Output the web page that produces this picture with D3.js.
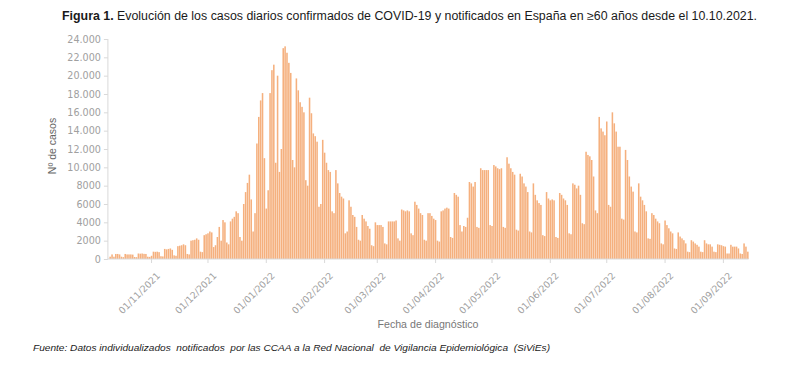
<!DOCTYPE html>
<html>
<head>
<meta charset="utf-8">
<script src="https://cdn.jsdelivr.net/npm/d3@7"></script>
<style>
  html, body { margin: 0; padding: 0; background: #fff; }
  svg { display: block; }
</style>
</head>
<body>
<svg id="chart" width="800" height="368"></svg>
<script>
// ---- DATA ----
const startDate = "2021-10-10"; // first diagnosis date (daily series)
// daily confirmed cases, >=60 years, from 10/10/2021
const casosOct = [250,
  500, 250, 550, 550, 500, 250, 200,
  550, 500, 500, 500, 480, 220, 200,
  600, 580, 600, 560, 550, 250, 230];
const casosNov = [
  350, 800, 780, 800, 750, 300, 280,
  1100, 1050, 1100, 1150, 1000, 400, 350,
  1400, 1450, 1500, 1600, 1500, 550, 500,
  2000, 2050, 2100, 2250, 2100, 800, 750,
  2600, 2700];
const casosDic = [
  2800, 3000, 2900, 1300, 1500,
  2400, 3500, 2000, 4250, 4000, 1800, 1600,
  4100, 4400, 4600, 5200, 5000, 2400, 2000,
  6000, 7300, 8300, 9200, 6500, 3000, 5000,
  12600, 15500, 17300, 18100, 11000];
const casosEne = [
  5500, 7500,
  18100, 20600, 21200, 10500, 20000, 9500, 12000,
  23000, 23200, 22500, 21400, 20300, 10800, 10000,
  19700, 18400, 17100, 16600, 16000, 8600, 8000,
  17600, 15900, 13700, 13400, 12800, 5700, 6000,
  13000];
const casosFeb = [
  11600, 10500, 9700, 9500, 5200, 5000,
  9700, 8250, 7200, 6800, 6600, 2800, 3000,
  6400, 5700, 4800, 4600, 3500, 2100, 2000,
  4800, 4400, 4100, 3600, 3300, 1500, 1400,
  4000];
const casosMar = [
  3700, 3700, 3700, 3500, 1700, 1600,
  4100, 4100, 4100, 4100, 4200, 2250, 2000,
  5400, 5300, 5200, 5300, 5200, 2800, 2600,
  6250, 5900, 5500, 5000, 4800, 2100, 2000,
  5000, 5000, 4700];
const casosAbr = [
  4400, 4250, 2000, 1900,
  5200, 5300, 5500, 5600, 5500, 2400, 2300,
  7200, 7000, 6800, 3700, 3000, 3600, 3500,
  4500, 8400, 8250, 7900, 8400, 3500, 3400,
  9900, 9700, 9700, 9700, 9700];
const casosMay = [
  3700, 3600,
  10250, 10100, 9900, 9800, 9900, 3500, 3400,
  11100, 10400, 9900, 9500, 9200, 3200, 3100,
  9300, 9000, 8250, 7900, 7300, 3000, 2900,
  8250, 7000, 6400, 6100, 5900, 2600, 2500,
  7300, 6600];
const casosJun = [
  6400, 6500, 6400, 2400, 2300,
  7200, 7000, 6600, 6400, 5900, 2800, 2700,
  8250, 8100, 7700, 8000, 7000, 3900, 3800,
  11700, 11350, 11200, 10800, 9000, 5300, 5000,
  15500, 14250, 13900, 13500];
const casosJul = [
  15000, 5900, 5700,
  16000, 14800, 13900, 12250, 12250, 4400, 4300,
  11900, 10800, 9000, 7900, 7350, 3000, 2900,
  8250, 6800, 6400, 5900, 5200, 2250, 2200,
  5000, 4800, 4400, 4100, 3900, 1700, 1600];
const casosAgo = [
  4200, 3700, 3350, 3000, 2800, 1150, 1100,
  2900, 2450, 2250, 2050, 1700, 800, 750,
  2050, 1900, 1700, 1550, 1350, 800, 750,
  2050, 1700, 1600, 1600, 1350, 800, 750,
  1600, 1550, 1500];
const casosSep = [
  1400, 1350, 600, 600,
  1550, 1350, 1350, 1350, 1150, 600, 550,
  1700, 1350, 800];

const yTicks = [0, 2000, 4000, 6000, 8000, 10000, 12000, 14000, 16000, 18000, 20000, 22000, 24000];
const yTickLabels = ["0", "2000", "4000", "6000", "8000", "10.000", "12.000", "14.000", "16.000", "18.000", "20.000", "22.000", "24.000"];
const xTickLabels = ["01/11/2021", "01/12/2021", "01/01/2022", "01/02/2022", "01/03/2022", "01/04/2022",
  "01/05/2022", "01/06/2022", "01/07/2022", "01/08/2022", "01/09/2022"];

const titleBold = "Figura 1.";
const titleRest = " Evolución de los casos diarios confirmados de COVID-19 y notificados en España en ≥60 años desde el 10.10.2021.";
const yTitle = "Nº de casos";
const xTitle = "Fecha de diagnóstico";
const footnote = "Fuente: Datos individualizados  notificados  por las CCAA a la Red Nacional  de Vigilancia Epidemiológica  (SiViEs)";

// ---- BUILD ----
const casos = [].concat(casosOct, casosNov, casosDic, casosEne, casosFeb, casosMar,
  casosAbr, casosMay, casosJun, casosJul, casosAgo, casosSep);
const parse = d3.timeParse("%Y-%m-%d");
const fmt = d3.timeFormat("%d/%m/%Y");
const d0 = parse(startDate);
const data = casos.map((v, i) => ({ date: d3.timeDay.offset(d0, i), value: v }));

const svg = d3.select("#chart");
const pL = 109.4, pR = 748.6, pT = 39, pB = 259;

const x = d3.scaleBand()
  .domain(data.map(d => fmt(d.date)))
  .range([pL, pR])
  .paddingInner(0.18)
  .paddingOuter(0);
const y = d3.scaleLinear().domain([0, 24000]).range([pB, pT]);

const barColor = "#F5B07E";
const axisColor = "#d9d9d9";
const labelColor = "#a0a0a0";

// bars
svg.append("g").selectAll("rect").data(data).join("rect")
  .attr("x", d => x(fmt(d.date)))
  .attr("width", x.bandwidth())
  .attr("y", d => y(d.value))
  .attr("height", d => y(0) - y(d.value))
  .attr("fill", barColor);

// y axis
const yAxis = d3.axisLeft(y)
  .tickValues(yTicks)
  .tickFormat((d, i) => yTickLabels[i])
  .tickSize(4)
  .tickPadding(3);
const gy = svg.append("g").attr("transform", `translate(${pL - 1.5},0)`).call(yAxis);
gy.select(".domain").attr("stroke", axisColor).attr("d", `M0,${pT}V${pB}`);
gy.selectAll(".tick line").attr("stroke", axisColor);
gy.selectAll(".tick text")
  .attr("fill", labelColor)
  .attr("font-family", "DejaVu Sans, sans-serif")
  .attr("font-size", 9.6);

// x axis
const xAxis = d3.axisBottom(x)
  .tickValues(xTickLabels)
  .tickSize(4)
  .tickPadding(2);
const gx = svg.append("g").attr("transform", `translate(0,${pB})`).call(xAxis);
gx.select(".domain").attr("stroke", axisColor).attr("d", `M${pL - 1.5},0H${pR}`);
gx.selectAll(".tick line").attr("stroke", axisColor);
gx.selectAll(".tick text")
  .attr("fill", labelColor)
  .attr("font-family", "DejaVu Sans, sans-serif")
  .attr("font-size", 9.4)
  .attr("text-anchor", "end")
  .attr("dy", 0)
  .attr("transform", "translate(5,13) rotate(-45)");

// title
const title = svg.append("text")
  .attr("x", 62).attr("y", 20)
  .attr("font-family", "Liberation Sans, Arial, sans-serif")
  .attr("font-size", 12)
  .attr("fill", "#1a1a1a")
  .attr("textLength", 695)
  .attr("lengthAdjust", "spacingAndGlyphs");
title.append("tspan").attr("font-weight", "bold").text(titleBold);
title.append("tspan").text(titleRest);

// axis titles
svg.append("text")
  .attr("transform", `translate(56,${(pT + pB) / 2 - 3}) rotate(-90)`)
  .attr("text-anchor", "middle")
  .attr("font-family", "Liberation Sans, Arial, sans-serif")
  .attr("font-size", 10.5)
  .attr("fill", "#666")
  .text(yTitle);

svg.append("text")
  .attr("x", 428).attr("y", 328)
  .attr("text-anchor", "middle")
  .attr("font-family", "Liberation Sans, Arial, sans-serif")
  .attr("font-size", 10.5)
  .attr("fill", "#777")
  .attr("textLength", 101)
  .attr("lengthAdjust", "spacingAndGlyphs")
  .text(xTitle);

// footnote
svg.append("text")
  .attr("x", 33).attr("y", 351)
  .attr("font-family", "Liberation Sans, Arial, sans-serif")
  .attr("font-size", 9.5)
  .attr("font-style", "italic")
  .attr("fill", "#222")
  .attr("textLength", 517)
  .attr("lengthAdjust", "spacingAndGlyphs")
  .style("white-space", "pre")
  .text(footnote);
</script>
</body>
</html>
